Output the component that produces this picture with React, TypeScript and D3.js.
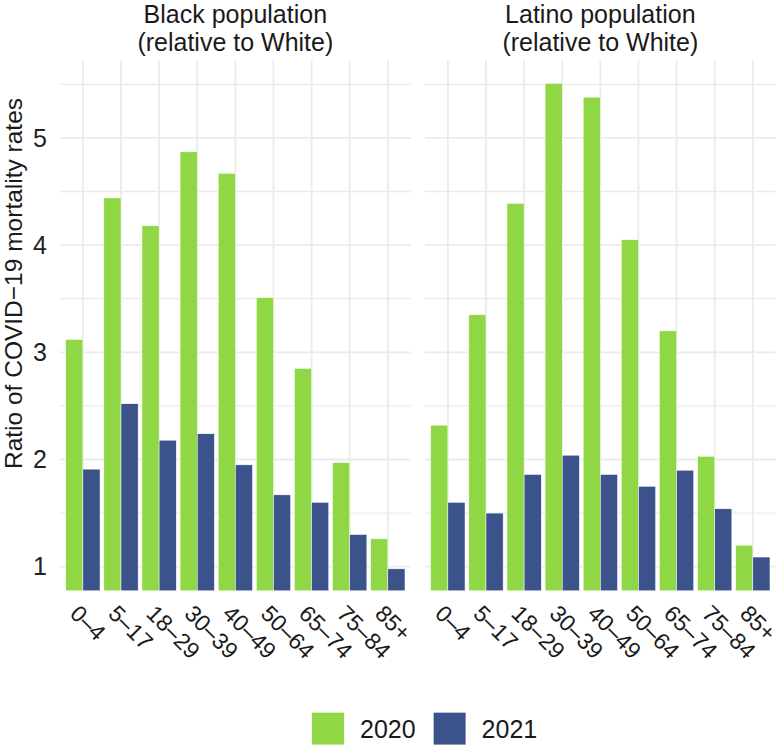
import React from "react";
import * as d3 from "d3";

const ageGroups = ["0–4", "5–17", "18–29", "30–39", "40–49", "50–64", "65–74", "75–84", "85+"];
const years = ["2020", "2021"];
const black2020 = [3.12, 4.44, 4.18, 4.87, 4.67, 3.51, 2.85, 1.97, 1.26];
const black2021 = [1.91, 2.52, 2.18, 2.24, 1.95, 1.67, 1.6, 1.3, 0.98];
const latino2020 = [2.32, 3.35, 4.39, 5.51, 5.38, 4.05, 3.2, 2.03, 1.2];
const latino2021 = [1.6, 1.5, 1.86, 2.04, 1.86, 1.75, 1.9, 1.54, 1.09];
const panelTitles = [
  ["Black population", "(relative to White)"],
  ["Latino population", "(relative to White)"],
];
const yTicks = [1, 2, 3, 4, 5];
const yMinor = [1.5, 2.5, 3.5, 4.5, 5.5];
const colors = ["#8FD744", "#3B528B"];

const W = 780;
const H = 746;
const FONT = "'Liberation Sans', Arial, Helvetica, sans-serif";
const panelTop = 60.2;
const panelBottom = 590.8;
const panels = [
  { x0: 60, x1: 410.7 },
  { x0: 425, x1: 775.7 },
];

export default function App() {
  const y = d3.scaleLinear().domain([0.775, 5.725]).range([panelBottom, panelTop]);
  const data = [
    [black2020, black2021],
    [latino2020, latino2021],
  ];

  return (
    <svg width={W} height={H} style={{ position: "absolute", left: 0, top: 0 }} fontFamily={FONT}>
      <rect x={0} y={0} width={W} height={H} fill="white" />
      {panels.map((p, pi) => {
        const x = d3.scalePoint<string>().domain(ageGroups).range([p.x0, p.x1]).padding(0.6);
        const step = x.step();
        const bw = step * 0.45;
        const cx = (p.x0 + p.x1) / 2;
        return (
          <g key={pi}>
            {yMinor.map((t) => (
              <line key={"m" + t} x1={p.x0} x2={p.x1} y1={y(t)} y2={y(t)} stroke="#EBEBEB" strokeWidth={1.3} />
            ))}
            {yTicks.map((t) => (
              <line key={"M" + t} x1={p.x0} x2={p.x1} y1={y(t)} y2={y(t)} stroke="#EBEBEB" strokeWidth={1.8} />
            ))}
            {ageGroups.map((g) => (
              <line key={"v" + g} x1={x(g)} x2={x(g)} y1={panelTop} y2={panelBottom} stroke="#EBEBEB" strokeWidth={1.8} />
            ))}
            {data[pi].map((series, si) =>
              series.map((v, i) => {
                const c = x(ageGroups[i])! - step * 0.45 + si * bw;
                return (
                  <rect
                    key={si + "-" + i}
                    x={c}
                    y={y(v)}
                    width={bw}
                    height={panelBottom - y(v)}
                    fill={colors[si]}
                    stroke="white"
                    strokeWidth={0.5}
                  />
                );
              })
            )}
            {panelTitles[pi].map((t, li) => (
              <text key={li} x={cx} y={23 + li * 28} textAnchor="middle" fontSize={25} fill="#1A1A1A">
                {t}
              </text>
            ))}
            {ageGroups.map((g) => (
              <text
                key={"xl" + g}
                transform={`translate(${x(g)! - 14},${615}) rotate(45)`}
                fontSize={23}
                fill="#1A1A1A"
              >
                {g}
              </text>
            ))}
          </g>
        );
      })}
      {yTicks.map((t) => (
        <text key={"yl" + t} x={47} y={y(t)} dy="0.35em" textAnchor="end" fontSize={25} fill="#222222">
          {t}
        </text>
      ))}
      <text transform={`translate(21.5,283.5) rotate(-90)`} textAnchor="middle" fontSize={24.5} fill="#1A1A1A">
        Ratio of COVID−19 mortality rates
      </text>
      {years.map((yr, i) => (
        <g key={yr} transform={`translate(${311.7 + i * 121.6},712.3)`}>
          <rect x={0} y={0} width={32.6} height={32.6} fill={colors[i]} stroke="white" strokeWidth={0.5} />
          <text x={48.3} y={16.5} dy="0.35em" fontSize={25} fill="#1A1A1A">
            {yr}
          </text>
        </g>
      ))}
    </svg>
  );
}
